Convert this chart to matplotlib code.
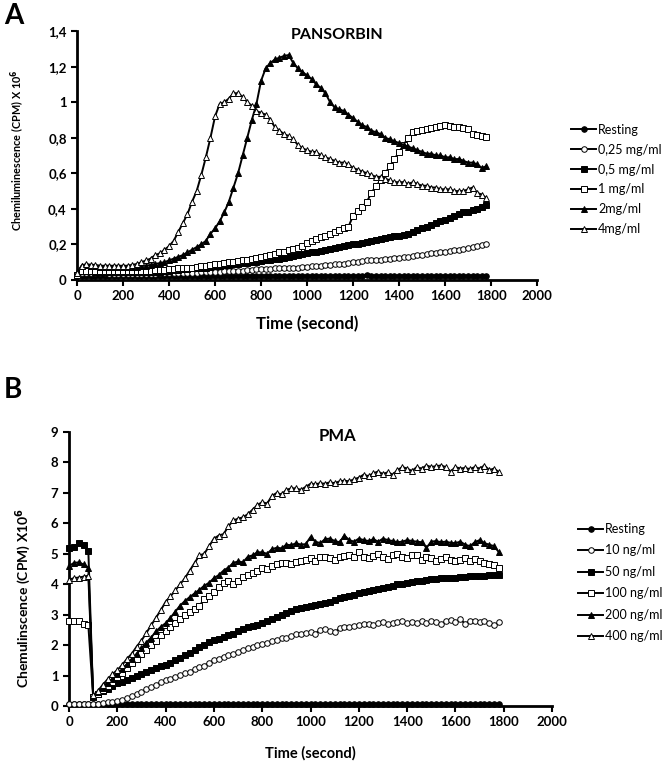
import numpy as np
import matplotlib
matplotlib.use('Agg')
import matplotlib.pyplot as plt

plt.rcParams['font.family'] = ['Lato', 'DejaVu Sans']

# ---- Panel A : PANSORBIN (x 10^6 CPM), one reading every 20 s
time_a = np.arange(0, 1800, 20)

a_rest = [
  .03, .02, .02, .02, .02, .02, .02, .02, .02, .02,
  .02, .02, .02, .02, .02, .02, .02, .02, .02, .02,
  .02, .02, .02, .02, .02, .02, .02, .02, .02, .02,
  .02, .02, .02, .02, .02, .02, .02, .02, .02, .02,
  .02, .02, .02, .02, .02, .02, .02, .02, .02, .02,
  .02, .02, .02, .02, .02, .02, .02, .02, .02, .02,
  .02, .02, .025, .03, .025, .02, .02, .02, .02, .02,
  .02, .02, .02, .02, .02, .02, .02, .02, .02, .02,
  .02, .02, .02, .02, .02, .02, .02, .02, .02, .02]
a_025 = [
  .03, .04, .04, .04, .04, .04, .04, .035, .035, .035,
  .035, .035, .035, .035, .035, .035, .035, .035, .04, .04,
  .04, .04, .04, .04, .04, .04, .04, .045, .045, .045,
  .045, .045, .05, .05, .05, .05, .05, .055, .055, .06,
  .06, .06, .06, .065, .065, .065, .07, .07, .07, .075,
  .075, .08, .08, .08, .085, .085, .09, .09, .09, .095,
  .10, .10, .105, .11, .11, .11, .115, .12, .12, .125,
  .125, .13, .13, .135, .14, .14, .145, .15, .15, .155,
  .16, .165, .17, .17, .175, .18, .185, .19, .195, .20]
a_05 = [
  .03, .05, .05, .05, .045, .045, .045, .045, .045, .045,
  .045, .045, .045, .045, .045, .045, .045, .045, .045, .05,
  .05, .055, .055, .06, .06, .065, .065, .07, .07, .075,
  .08, .08, .085, .085, .09, .09, .095, .095, .10, .10,
  .105, .11, .115, .12, .12, .125, .13, .135, .14, .145,
  .15, .155, .16, .165, .17, .175, .18, .185, .19, .195,
  .20, .205, .21, .215, .22, .225, .23, .235, .24, .245,
  .25, .255, .26, .27, .28, .29, .30, .31, .32, .33,
  .34, .35, .36, .37, .38, .385, .395, .40, .41, .42]
a_1 = [
  .03, .05, .05, .05, .05, .05, .05, .05, .05, .05,
  .05, .05, .05, .05, .05, .05, .05, .055, .055, .055,
  .06, .06, .065, .065, .07, .07, .075, .08, .08, .085,
  .09, .09, .095, .10, .10, .105, .11, .115, .12, .125,
  .13, .135, .14, .145, .155, .16, .17, .175, .18, .19,
  .21, .22, .23, .24, .25, .26, .27, .28, .29, .30,
  .36, .39, .41, .44, .49, .53, .56, .60, .64, .68,
  .72, .76, .80, .83, .84, .845, .85, .855, .86, .865,
  .87, .865, .86, .86, .855, .85, .82, .815, .81, .805]
a_2 = [
  .04, .08, .085, .08, .08, .075, .075, .075, .075, .075,
  .075, .075, .075, .075, .08, .08, .085, .09, .095, .10,
  .11, .12, .13, .14, .155, .17, .185, .20, .22, .26,
  .29, .33, .38, .44, .52, .60, .70, .80, .90, .99,
  1.12, 1.19, 1.22, 1.24, 1.25, 1.26, 1.265, 1.22, 1.19, 1.17,
  1.15, 1.13, 1.10, 1.08, 1.05, 1.00, .97, .96, .95, .93,
  .91, .89, .87, .86, .84, .83, .82, .80, .79, .78,
  .77, .76, .75, .74, .73, .72, .71, .71, .70, .70,
  .69, .69, .68, .68, .67, .66, .66, .65, .63, .64]
a_4 = [
  .04, .08, .09, .085, .085, .08, .08, .08, .08, .08,
  .08, .08, .085, .09, .10, .11, .12, .14, .15, .17,
  .19, .22, .27, .32, .37, .44, .50, .59, .69, .80,
  .92, .99, 1.00, 1.02, 1.05, 1.05, 1.03, 1.00, .98, .95,
  .94, .93, .90, .86, .84, .82, .81, .79, .76, .74,
  .73, .72, .72, .70, .69, .68, .67, .66, .66, .65,
  .63, .62, .61, .60, .59, .58, .58, .57, .56, .55,
  .55, .55, .54, .55, .54, .53, .53, .52, .52, .51,
  .51, .51, .50, .50, .50, .51, .52, .49, .48, .46]

labels_a = ['Resting', '0,25 mg/ml', '0,5 mg/ml', '1 mg/ml', '2mg/ml', '4mg/ml']

# ---- Panel B : PMA (x 10^6 CPM)
time_b = np.arange(0, 1800, 20)

b_rest = [
  .05, .05, .05, .05, .05, .05, .05, .05, .05, .05,
  .05, .05, .05, .05, .05, .05, .05, .05, .05, .05,
  .05, .05, .05, .05, .05, .05, .05, .05, .05, .05,
  .05, .05, .05, .05, .05, .05, .05, .05, .05, .05,
  .05, .05, .05, .05, .05, .05, .05, .05, .05, .05,
  .05, .05, .05, .05, .05, .05, .05, .05, .05, .05,
  .05, .05, .05, .05, .05, .05, .05, .05, .05, .05,
  .05, .05, .05, .05, .05, .05, .05, .05, .05, .05,
  .05, .05, .05, .05, .05, .05, .05, .05, .05, .05]
b_10 = [
  .05, .05, .05, .05, .05, .08, .08, .10, .12, .13,
  .15, .20, .26, .32, .40, .47, .55, .62, .70, .78,
  .85, .90, .96, 1.02, 1.08, 1.13, 1.20, 1.27, 1.33, 1.42,
  1.50, 1.55, 1.62, 1.68, 1.72, 1.78, 1.85, 1.90, 1.95, 2.00,
  2.05, 2.08, 2.12, 2.18, 2.22, 2.25, 2.30, 2.35, 2.38, 2.40,
  2.42, 2.38, 2.50, 2.52, 2.48, 2.42, 2.55, 2.60, 2.58, 2.62,
  2.65, 2.70, 2.68, 2.66, 2.72, 2.75, 2.70, 2.72, 2.75, 2.78,
  2.72, 2.75, 2.74, 2.78, 2.72, 2.80, 2.76, 2.70, 2.78, 2.82,
  2.75, 2.85, 2.70, 2.80, 2.78, 2.76, 2.80, 2.72, 2.65, 2.75]
b_50 = [
  5.18, 5.22, 5.35, 5.30, 5.10, .30, .38, .48, .55, .65,
  .74, .80, .86, .93, 1.00, 1.06, 1.12, 1.18, 1.24, 1.30,
  1.35, 1.42, 1.50, 1.58, 1.66, 1.75, 1.84, 1.94, 2.02, 2.10,
  2.16, 2.20, 2.26, 2.32, 2.38, 2.45, 2.52, 2.58, 2.62, 2.66,
  2.72, 2.78, 2.85, 2.92, 2.98, 3.05, 3.12, 3.18, 3.22, 3.26,
  3.30, 3.32, 3.36, 3.40, 3.42, 3.48, 3.55, 3.58, 3.62, 3.66,
  3.70, 3.74, 3.78, 3.82, 3.85, 3.88, 3.90, 3.94, 4.00, 4.02,
  4.05, 4.08, 4.10, 4.12, 4.14, 4.16, 4.18, 4.20, 4.20, 4.22,
  4.22, 4.24, 4.25, 4.26, 4.26, 4.28, 4.28, 4.30, 4.30, 4.32]
b_100 = [
  2.78, 2.80, 2.78, 2.70, 2.65, .30, .40, .52, .65, .80,
  .95, 1.10, 1.25, 1.40, 1.55, 1.70, 1.85, 2.00, 2.15, 2.32,
  2.48, 2.60, 2.72, 2.85, 2.98, 3.10, 3.20, 3.30, 3.50, 3.60,
  3.75, 3.90, 4.05, 4.10, 4.00, 4.10, 4.25, 4.32, 4.38, 4.45,
  4.52, 4.50, 4.60, 4.65, 4.70, 4.70, 4.68, 4.72, 4.75, 4.80,
  4.85, 4.75, 4.88, 4.90, 4.85, 4.80, 4.90, 4.92, 4.95, 4.88,
  5.05, 4.90, 4.85, 4.92, 5.00, 4.88, 4.82, 4.95, 5.00, 4.90,
  4.85, 4.95, 4.95, 4.80, 4.90, 4.85, 4.75, 4.82, 4.90, 4.80,
  4.75, 4.80, 4.85, 4.75, 4.82, 4.75, 4.70, 4.65, 4.62, 4.55]
b_200 = [
  4.60, 4.70, 4.72, 4.65, 4.55, .32, .45, .60, .75, .88,
  1.05, 1.20, 1.38, 1.55, 1.72, 1.90, 2.08, 2.25, 2.45, 2.60,
  2.72, 2.90, 3.10, 3.30, 3.45, 3.58, 3.70, 3.82, 3.95, 4.05,
  4.20, 4.30, 4.45, 4.55, 4.70, 4.75, 4.72, 4.90, 4.95, 5.05,
  5.05, 5.00, 5.15, 5.20, 5.18, 5.30, 5.28, 5.35, 5.30, 5.32,
  5.55, 5.40, 5.35, 5.48, 5.50, 5.42, 5.38, 5.60, 5.45, 5.40,
  5.50, 5.45, 5.42, 5.48, 5.40, 5.50, 5.45, 5.42, 5.38, 5.40,
  5.45, 5.42, 5.40, 5.38, 5.20, 5.40, 5.42, 5.38, 5.40, 5.36,
  5.35, 5.40, 5.30, 5.25, 5.38, 5.45, 5.35, 5.30, 5.25, 5.05]
b_400 = [
  4.15, 4.20, 4.22, 4.25, 4.28, .35, .50, .70, .88, 1.05,
  1.18, 1.35, 1.55, 1.72, 1.95, 2.15, 2.40, 2.65, 2.90, 3.15,
  3.42, 3.60, 3.80, 4.00, 4.20, 4.45, 4.70, 4.95, 5.00, 5.25,
  5.50, 5.60, 5.65, 5.90, 6.10, 6.15, 6.20, 6.30, 6.45, 6.60,
  6.70, 6.65, 6.90, 7.00, 6.95, 7.10, 7.15, 7.15, 7.10, 7.20,
  7.30, 7.28, 7.32, 7.30, 7.35, 7.32, 7.38, 7.40, 7.38, 7.45,
  7.50, 7.60, 7.55, 7.65, 7.70, 7.62, 7.68, 7.60, 7.75, 7.85,
  7.80, 7.72, 7.85, 7.80, 7.90, 7.85, 7.88, 7.90, 7.85, 7.70,
  7.85, 7.80, 7.82, 7.78, 7.85, 7.80, 7.90, 7.75, 7.80, 7.68]

labels_b = ['Resting', '10 ng/ml', '50 ng/ml', '100 ng/ml', '200 ng/ml', '400 ng/ml']

# marker style per series (same order in both panels)
styles = [('o', 'black'), ('o', 'white'), ('s', 'black'),
          ('s', 'white'), ('^', 'black'), ('^', 'white')]


def draw(ax, t, series, labels):
  for y, lab, (m, fc) in zip(series, labels, styles):
    ax.plot(t, y, color='black', lw=1.4, marker=m, ms=4,
            mfc=fc, mec='black', mew=0.7, label=lab, clip_on=False, zorder=3)
  for s in ['top', 'right']:
    ax.spines[s].set_visible(False)
  for s in ['left', 'bottom']:
    ax.spines[s].set_linewidth(2)
  ax.tick_params(axis='both', direction='out', width=1.5, length=4,
                 labelsize=9.5)
  ax.set_xlim(0, 2000)
  ax.set_xticks(np.arange(0, 2001, 200))
  ax.set_xticklabels([str(v) for v in range(0, 2001, 200)], fontweight='bold')


fig = plt.figure(figsize=(6.7, 7.66), dpi=100)

axA = fig.add_axes([0.115, 0.6345, 0.6866, 0.325])
draw(axA, time_a, [a_rest, a_025, a_05, a_1, a_2, a_4], labels_a)
axA.set_ylim(0, 1.4)
axA.set_yticks(np.arange(0, 1.41, 0.2))
axA.set_yticklabels(['0', '0,2', '0,4', '0,6', '0,8', '1', '1,2', '1,4'],
                    fontweight='bold')
axA.set_ylabel('Chemiluminescence (CPM) X 10$^\\mathbf{6}$', fontsize=7.8,
               fontweight='bold')
axA.yaxis.set_label_coords(-0.109, 0.522)
axA.set_xlabel('Time (second)', fontsize=12, fontweight='bold', labelpad=10)
axA.text(0.565, 0.985, 'PANSORBIN', transform=axA.transAxes, ha='center',
         va='center', fontsize=11.5, fontweight='bold')
axA.legend(loc='upper left', bbox_to_anchor=(0.836, 0.853),
           bbox_transform=fig.transFigure, frameon=False, fontsize=9,
           handlelength=2.0, labelspacing=0.63, handletextpad=0.15)

axB = fig.add_axes([0.103, 0.0783, 0.721, 0.3577])
draw(axB, time_b, [b_rest, b_10, b_50, b_100, b_200, b_400], labels_b)
axB.set_ylim(0, 9)
axB.set_yticks(range(0, 10))
axB.set_yticklabels([str(v) for v in range(0, 10)], fontweight='bold')
axB.set_ylabel('Chemulinscence (CPM) X10$^\\mathbf{6}$', fontsize=10,
               fontweight='bold')
axB.yaxis.set_label_coords(-0.0745, 0.394)
axB.set_xlabel('Time (second)', fontsize=10.5, fontweight='bold', labelpad=13)
axB.text(0.556, 0.985, 'PMA', transform=axB.transAxes, ha='center',
         va='center', fontsize=12, fontweight='bold')
axB.legend(loc='upper left', bbox_to_anchor=(0.846, 0.332),
           bbox_transform=fig.transFigure, frameon=False, fontsize=9,
           handlelength=2.0, labelspacing=0.76, handletextpad=0.15)

fig.text(0.006, 0.996, 'A', fontsize=20, fontweight='bold', va='top')
fig.text(0.006, 0.508, 'B', fontsize=20, fontweight='bold', va='top')

fig.savefig('out.png', dpi=100)
